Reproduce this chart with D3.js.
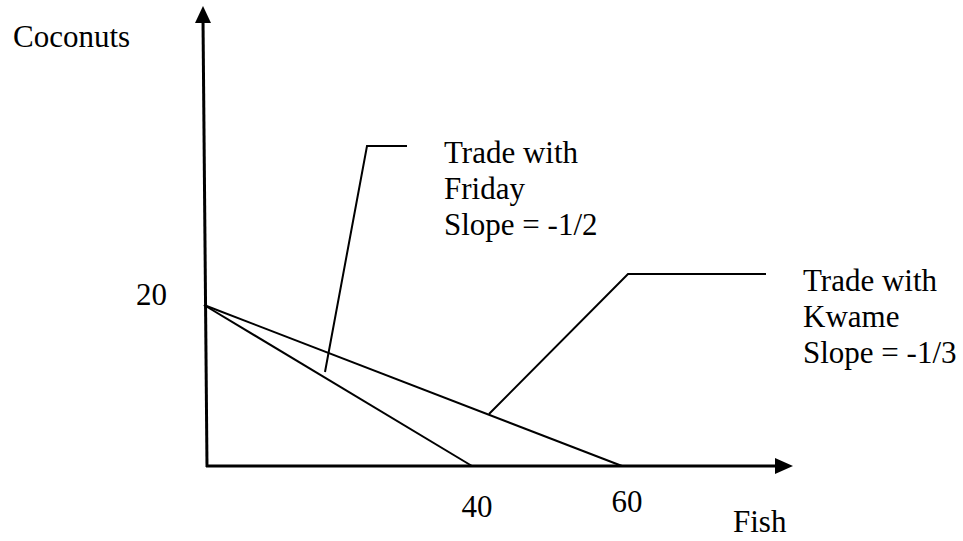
<!DOCTYPE html>
<html>
<head>
<meta charset="utf-8">
<script src="https://cdn.jsdelivr.net/npm/d3@7"></script>
<style>
  body { margin: 0; background: #fff; }
  text { font-family: "Liberation Serif", "Times New Roman", serif; font-size: 31px; fill: #000; }
</style>
</head>
<body>
<svg width="963" height="541"></svg>
<script>
var svg = d3.select("svg");

// intercepts of the two trade lines (fish, coconuts)
var fridayLine = [[0, 20], [40, 0]];
var kwameLine = [[0, 20], [60, 0]];

// tick labels
var yTicks = [20];
var xTicks = [40, 60];

var fridayLabel = ["Trade with", "Friday", "Slope = -1/2"];
var kwameLabel = ["Trade with", "Kwame", "Slope = -1/3"];

// sketch is not drawn to scale, so the x scale is piecewise
var x = d3.scaleLinear().domain([0, 40, 60]).range([204, 472, 622]);
var y = d3.scaleLinear().domain([0, 20]).range([466, 305]);

var line = d3.line()
    .x(function(d) { return x(d[0]); })
    .y(function(d) { return y(d[1]); });

// axes with arrow heads
svg.append("line")
    .attr("x1", 207).attr("y1", 467)
    .attr("x2", 203).attr("y2", 20)
    .attr("stroke", "#000").attr("stroke-width", 3);
svg.append("path")
    .attr("d", "M203,6 L195,23 L211,23 Z")
    .attr("fill", "#000");

svg.append("line")
    .attr("x1", 206).attr("y1", 466)
    .attr("x2", 778).attr("y2", 466)
    .attr("stroke", "#000").attr("stroke-width", 3);
svg.append("path")
    .attr("d", "M793,466 L775,458 L775,474 Z")
    .attr("fill", "#000");

// trade lines
svg.selectAll(".trade")
    .data([fridayLine, kwameLine])
    .enter().append("path")
    .attr("class", "trade")
    .attr("d", line)
    .attr("fill", "none")
    .attr("stroke", "#000")
    .attr("stroke-width", 2);

// leader lines for the labels
svg.append("polyline")
    .attr("points", "407,146 367,146 325,372")
    .attr("fill", "none").attr("stroke", "#000").attr("stroke-width", 2);
svg.append("polyline")
    .attr("points", "766,274 628,274 489,414")
    .attr("fill", "none").attr("stroke", "#000").attr("stroke-width", 2);

function addBlock(lines, x0, y0) {
  svg.append("g").selectAll("text")
      .data(lines)
      .enter().append("text")
      .attr("x", x0)
      .attr("y", function(d, i) { return y0 + i * 36; })
      .text(function(d) { return d; });
}
addBlock(fridayLabel, 444, 163);
addBlock(kwameLabel, 803, 291);

// axis titles and tick labels
svg.append("text").attr("x", 13).attr("y", 47).text("Coconuts");
svg.append("text").attr("x", 733).attr("y", 532).text("Fish");

svg.selectAll(".ytick")
    .data(yTicks)
    .enter().append("text")
    .attr("class", "ytick")
    .attr("x", 167)
    .attr("y", function(d) { return y(d); })
    .attr("text-anchor", "end")
    .text(function(d) { return d; });

svg.selectAll(".xtick")
    .data(xTicks)
    .enter().append("text")
    .attr("class", "xtick")
    .attr("x", function(d) { return x(d) + 5; })
    .attr("y", function(d, i) { return i === 0 ? 517 : 512; })
    .attr("text-anchor", "middle")
    .text(function(d) { return d; });
</script>
</body>
</html>
